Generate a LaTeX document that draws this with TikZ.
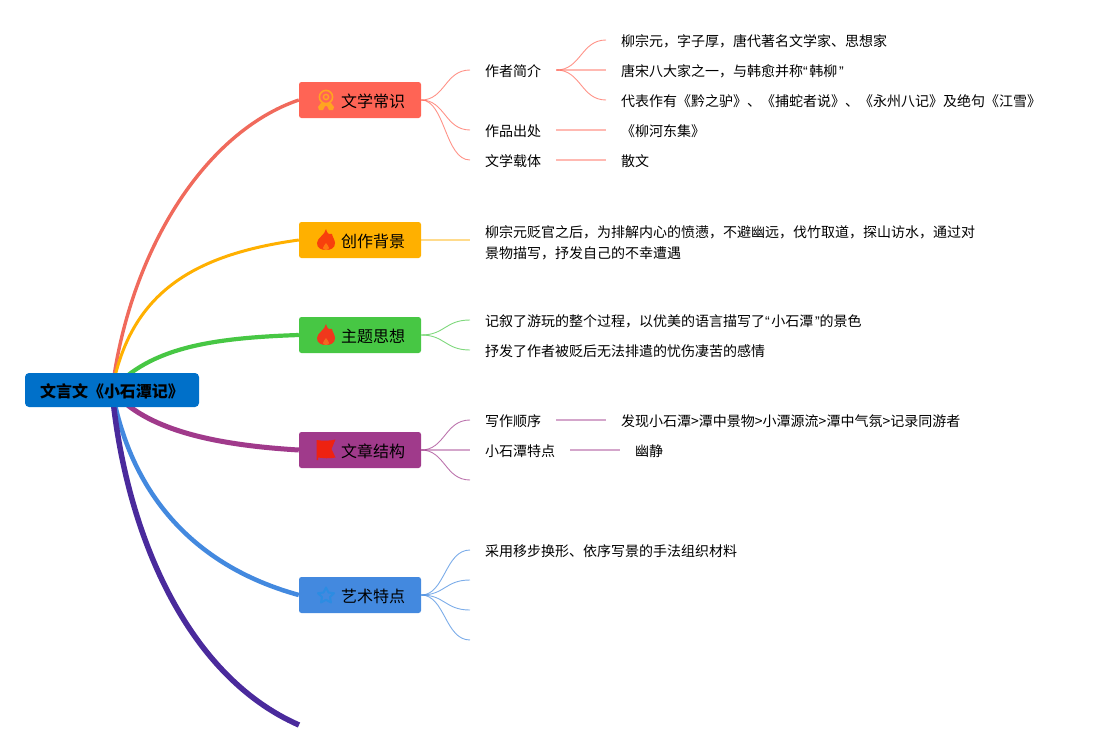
\documentclass[tikz,border=0pt]{standalone}
\usepackage{fontspec}
\setmainfont{Noto Sans CJK SC}
\newfontfamily\quotefont{Liberation Sans}
\usetikzlibrary{backgrounds}
\definecolor{rootblue}{HTML}{0070C9}
\definecolor{coral}{HTML}{FF6455}
\definecolor{coralline}{HTML}{F06A5C}
\definecolor{amber}{HTML}{FFB000}
\definecolor{leaf}{HTML}{47C744}
\definecolor{plum}{HTML}{A03A8B}
\definecolor{sky}{HTML}{4389DF}
\definecolor{indigo}{HTML}{4A2A9C}
\definecolor{medal}{HTML}{FFA520}
\definecolor{flag}{HTML}{EE2211}
\definecolor{star}{HTML}{2C8CE2}
\newcommand{\openq}{{\quotefont“}\kern1.6pt}
\newcommand{\closeq}{\kern1.6pt{\quotefont”}}
\tikzset{
    root/.style={fill=rootblue, rounded corners=4pt, minimum width=174pt, minimum height=34pt, inner sep=0pt, text height=17.5pt, text depth=2.5pt, font=\fontsize{16}{20}\selectfont\bfseries},
    topic/.style={fill=#1, rounded corners=2.5pt, minimum width=122pt, minimum height=36pt, inner sep=0pt, text height=16.5pt, text depth=2.5pt, font=\fontsize{16}{20}\selectfont},
    para/.style={anchor=west, inner xsep=15pt, inner ysep=0pt, align=left, font=\fontsize{14}{21}\selectfont},
    item/.style={para, text height=14.6pt, text depth=2pt},
    twig/.style={draw=#1, opacity=.7, line width=.9pt},
    twigline/.style={draw=#1, opacity=.45, line width=1.6pt},
    trunk/.style={line cap=butt}
}
\begin{document}
\begin{tikzpicture}[x=1pt, y=-1pt]
    \useasboundingbox (0,0) rectangle (1101,750);

    % Centre
    \node[root] (title) at (112,390) {文言文《小石潭记》};

    % Main topics
    \node[topic=coral] (lit) at (360,100) {\hspace*{26pt}文学常识};
    \node[topic=amber] (back) at (360,240) {\hspace*{26pt}创作背景};
    \node[topic=leaf] (theme) at (360,335) {\hspace*{26pt}主题思想};
    \node[topic=plum] (struct) at (360,450) {\hspace*{26pt}文章结构};
    \node[topic=sky] (art) at (360,595) {\hspace*{26pt}艺术特点};
    \coordinate (last) at (299,725);

    % Icons
    \draw[medal, line width=1.6pt] (326,97) circle [radius=6.6];
    \draw[medal, line width=1.4pt] (326,97) circle [radius=2.6];
    \fill[medal] (321,103) -- (318,107) -- (319,110) -- (323,110) -- (325,106) -- (327,106) -- (329,110) -- (333,110) -- (334,107) -- (331,103) -- cycle;
    \foreach \cy/\base/\hole in {240/F8400C/FF7A10, 335/F0381C/F06A20} {
        \definecolor{flamea}{HTML}{\base}
        \definecolor{flameb}{HTML}{\hole}
        \fill[flamea] (326,\cy-11) .. controls (327,\cy-6) and (330,\cy-5) .. (332,\cy-6) .. controls (332,\cy-4) and (335,\cy) .. (335,\cy+3) .. controls (335,\cy+8) and (331,\cy+10) .. (326,\cy+10) .. controls (321,\cy+10) and (317,\cy+8) .. (317,\cy+3) .. controls (317,\cy-2) and (325,\cy-5) .. (326,\cy-11) -- cycle;
        \fill[flameb] (326,\cy+3) .. controls (327,\cy+5) and (329,\cy+6) .. (329,\cy+8) .. controls (329,\cy+9) and (328,\cy+10) .. (326,\cy+10) .. controls (324,\cy+10) and (323,\cy+9) .. (323,\cy+8) .. controls (323,\cy+6) and (325,\cy+5) .. (326,\cy+3) -- cycle;
    }
    \fill[flag] (316.5,440) .. controls (322,441) and (330,441) .. (335.5,439.5) -- (331.5,449) -- (335.5,457.5) .. controls (330,459) and (322,458) .. (318,457.5) -- (318,460) -- (316.5,460) -- cycle;
    \draw[star, line width=2pt, line join=round] (326,587.5) -- (328.5,592.5) -- (334,593.2) -- (330,597) -- (331,602.5) -- (326,599.8) -- (321,602.5) -- (322,597) -- (318,593.2) -- (323.5,592.5) -- cycle;

    % Leaves
    \node[item] (author) at (470,70) {作者简介};
    \node[item] (source) at (470,130) {作品出处};
    \node[item] (genre) at (470,160) {文学载体};
    \node[item] (name) at (606,40) {柳宗元，字子厚，唐代著名文学家、思想家};
    \node[item] (rank) at (606,70) {唐宋八大家之一，与韩愈并称\openq 韩柳\closeq};
    \node[item] (works) at (606,100) {代表作有《黔之驴》、《捕蛇者说》、《永州八记》及绝句《江雪》};
    \node[item] (book) at (606,130) {《柳河东集》};
    \node[item] (prose) at (606,160) {散文};
    \node[para] (reason) at (470,243) {柳宗元贬官之后，为排解内心的愤懑，不避幽远，伐竹取道，探山访水，通过对\\景物描写，抒发自己的不幸遭遇};
    \node[item] (tour) at (470,320) {记叙了游玩的整个过程，以优美的语言描写了\openq 小石潭\closeq 的景色};
    \node[item] (grief) at (470,350) {抒发了作者被贬后无法排遣的忧伤凄苦的感情};
    \node[item] (order) at (470,420) {写作顺序};
    \node[item] (trait) at (470,450) {小石潭特点};
    \coordinate (blank) at (470,480);
    \node[item] (route) at (606,420) {发现小石潭>潭中景物>小潭源流>潭中气氛>记录同游者};
    \node[item] (quiet) at (620,450) {幽静};
    \node[item] (method) at (470,550) {采用移步换形、依序写景的手法组织材料};
    \coordinate (blanka) at (470,580);
    \coordinate (blankb) at (470,610);
    \coordinate (blankc) at (470,640);

    \begin{pgfonlayer}{background}
        % Thick branches
        \draw[trunk, coralline, line width=3.4pt] (title.center) .. controls (130,250) and (205,132) .. (lit.west);
        \draw[trunk, amber, line width=3pt] (title.center) .. controls (130,295) and (190,255) .. (back.west);
        \draw[trunk, leaf, line width=4.2pt] (title.center) .. controls (150,348) and (210,338) .. (theme.west);
        \draw[trunk, plum, line width=5pt] (title.center) .. controls (145,430) and (215,445) .. (struct.west);
        \draw[trunk, sky, line width=4.5pt] (title.center) .. controls (130,490) and (190,565) .. (art.west);
        \draw[trunk, indigo, line width=5.5pt] (title.center) .. controls (125,530) and (185,675) .. (last);

        % Thin branches
        \draw[twig=coral] (lit.east) .. controls (445,100) and (445,70) .. (author.west);
        \draw[twig=coral] (lit.east) .. controls (445,100) and (445,130) .. (source.west);
        \draw[twig=coral] (lit.east) .. controls (445,100) and (445,160) .. (genre.west);
        \draw[twig=coral] (author.east) .. controls (581,70) and (581,40) .. (name.west);
        \draw[twigline=coral] (author.east) -- (rank.west);
        \draw[twig=coral] (author.east) .. controls (581,70) and (581,100) .. (works.west);
        \draw[twigline=coral] (source.east) -- (book.west);
        \draw[twigline=coral] (genre.east) -- (prose.west);
        \draw[twigline=amber] (back.east) -- (back.east -| reason.west);
        \draw[twig=leaf] (theme.east) .. controls (445,335) and (445,320) .. (tour.west);
        \draw[twig=leaf] (theme.east) .. controls (445,335) and (445,350) .. (grief.west);
        \draw[twig=plum] (struct.east) .. controls (445,450) and (445,420) .. (order.west);
        \draw[twigline=plum] (struct.east) -- (trait.west);
        \draw[twig=plum] (struct.east) .. controls (445,450) and (445,480) .. (blank);
        \draw[twigline=plum] (order.east) -- (route.west);
        \draw[twigline=plum] (trait.east) -- (quiet.west);
        \draw[twig=sky] (art.east) .. controls (445,595) and (445,550) .. (method.west);
        \draw[twig=sky] (art.east) .. controls (445,595) and (445,580) .. (blanka);
        \draw[twig=sky] (art.east) .. controls (445,595) and (445,610) .. (blankb);
        \draw[twig=sky] (art.east) .. controls (445,595) and (445,640) .. (blankc);
    \end{pgfonlayer}
\end{tikzpicture}
\end{document}
